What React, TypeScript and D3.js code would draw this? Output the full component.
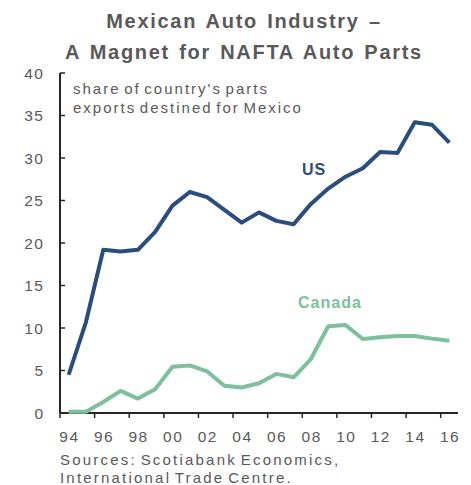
import React from "react";
import * as d3 from "d3";

const years = ["94","95","96","97","98","99","00","01","02","03","04","05","06","07","08","09","10","11","12","13","14","15","16"];
const usValues = [4.5, 10.7, 19.2, 19.0, 19.2, 21.3, 24.4, 26.0, 25.4, 23.9, 22.4, 23.6, 22.6, 22.2, 24.6, 26.4, 27.8, 28.8, 30.7, 30.6, 34.2, 33.9, 31.8];
const canadaValues = [0.15, 0.15, 1.3, 2.6, 1.7, 2.8, 5.45, 5.6, 4.9, 3.2, 3.0, 3.5, 4.6, 4.2, 6.35, 10.2, 10.35, 8.7, 8.9, 9.05, 9.05, 8.75, 8.5];
const yTicks = [0, 5, 10, 15, 20, 25, 30, 35, 40];
const titleLines = ["Mexican Auto Industry –", "A Magnet for NAFTA Auto Parts"];
const noteLines = ["share of country's parts", "exports destined for Mexico"];
const sourceLines = ["Sources: Scotiabank Economics,", "International Trade Centre."];

const W = 471;
const H = 485;
const FONT = "'Liberation Sans', Arial, Helvetica, sans-serif";
const GRAY = "#595959";
const US_COLOR = "#2b4c7e";
const CA_COLOR = "#7dbf9e";

export default function App() {
  const x = d3.scaleBand<string>().domain(years).range([60, 458]).padding(0);
  const y = d3.scaleLinear().domain([0, 40]).range([413, 73]);
  const cx = (yr: string) => (x(yr) as number) + x.bandwidth() / 2;
  const line = d3
    .line<number>()
    .x((_, i) => cx(years[i]))
    .y((d) => y(d));

  return (
    <svg width={W} height={H} style={{ position: "absolute", left: 0, top: 0, background: "#fff" }}>
      <g fontFamily={FONT}>
        {titleLines.map((t, i) => (
          <text key={t} x={244} y={28 + i * 31} textAnchor="middle" fontWeight="bold" fontSize={20} letterSpacing={1.7} wordSpacing={2} fill={GRAY}>
            {t}
          </text>
        ))}
        {noteLines.map((t, i) => (
          <text key={t} x={73} y={94 + i * 19} fontSize={15} letterSpacing={2} wordSpacing={-2.5} fill={GRAY}>
            {t}
          </text>
        ))}
        {/* y axis */}
        <line x1={60} x2={60} y1={y(40)} y2={y(0)} stroke="#262626" strokeWidth={2} />
        {yTicks.map((t) => (
          <g key={t}>
            <line x1={60} x2={65} y1={y(t)} y2={y(t)} stroke="#262626" strokeWidth={1.5} />
            <text x={44.5} y={y(t) + 5.5} textAnchor="end" fontSize={15.5} letterSpacing={1.5} fill={GRAY}>
              {t}
            </text>
          </g>
        ))}
        {/* x axis */}
        <line x1={60} x2={458} y1={y(0)} y2={y(0)} stroke="#262626" strokeWidth={2} />
        {years.map((yr, i) =>
          i % 2 === 0 ? (
            <g key={yr}>
              <line x1={x(yr) as number} x2={x(yr) as number} y1={y(0)} y2={y(0) + 5} stroke="#262626" strokeWidth={1.5} />
              <text x={cx(yr) + 0.75} y={442} textAnchor="middle" fontSize={15.5} letterSpacing={1.5} fill={GRAY}>
                {yr}
              </text>
            </g>
          ) : null
        )}
        <path d={line(canadaValues) || ""} fill="none" stroke={CA_COLOR} strokeWidth={4} strokeLinejoin="round" />
        <path d={line(usValues) || ""} fill="none" stroke={US_COLOR} strokeWidth={4} strokeLinejoin="round" />
        <text x={302} y={175} fontSize={16} fontWeight="bold" letterSpacing={1} fill={US_COLOR}>US</text>
        <text x={298} y={308} fontSize={16} fontWeight="bold" letterSpacing={1} fill={CA_COLOR}>Canada</text>
        {sourceLines.map((t, i) => (
          <text key={t} x={60} y={465 + i * 18} fontSize={15} letterSpacing={2.2} wordSpacing={-2.5} fill={GRAY}>
            {t}
          </text>
        ))}
      </g>
    </svg>
  );
}
